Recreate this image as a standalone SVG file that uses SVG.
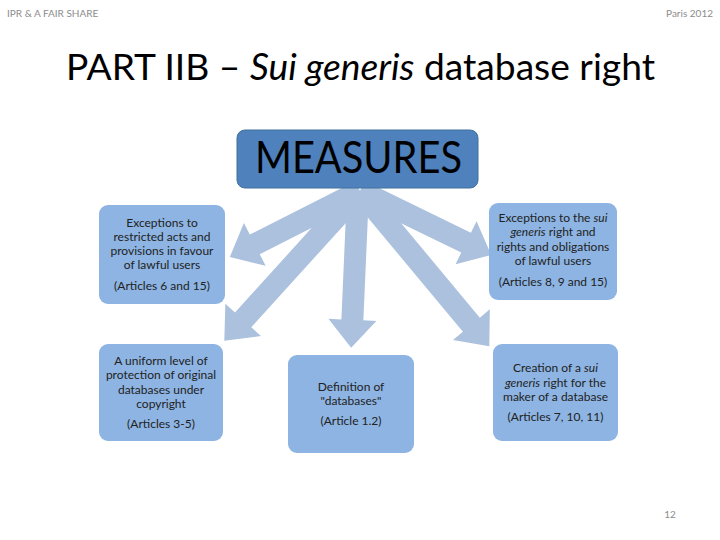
<svg xmlns="http://www.w3.org/2000/svg" width="720" height="540" viewBox="0 0 720 540">
<style>
.hdr{font-family:"Lato","Liberation Sans",sans-serif;font-size:10px;fill:#8c8c8c}
.title{font-family:"Lato","Liberation Sans",sans-serif;font-size:36px;fill:#000}
.box{fill:#8db4e2;stroke:none}
.t{font-family:"Lato","Liberation Sans",sans-serif;font-size:12px;fill:#222;text-anchor:middle}
.arr{fill:#abc1de}
</style>
<defs>
<polygon id="a146" points="0,-11 118,-11 118,-24 146,0 118,24 118,11 0,11"/>
<polygon id="a202" points="0,-11 174,-11 174,-24 202,0 174,24 174,11 0,11"/>
<polygon id="a157" points="0,-11 129,-11 129,-24 157,0 129,24 129,11 0,11"/>
</defs>
<rect width="720" height="540" fill="#fff"/>
<text class="hdr" x="7" y="17">IPR &amp; A FAIR SHARE</text>
<text class="hdr" x="713" y="17" text-anchor="end">Paris 2012</text>
<text class="title" x="66" y="80" textLength="589" lengthAdjust="spacingAndGlyphs">PART IIB – <tspan font-style="italic">Sui generis</tspan> database right</text>
<g id="connectors" class="arr">
<use href="#a146" transform="translate(360,191) rotate(153.1)"/>
<use href="#a202" transform="translate(360,191) rotate(132.2)"/>
<use href="#a157" transform="translate(358,191) rotate(92.5)"/>
<use href="#a202" transform="translate(360,191) rotate(50.2)"/>
<use href="#a146" transform="translate(360,191) rotate(26)"/>
</g>
<g id="measures">
<rect x="237" y="130" width="241" height="58" rx="8" fill="#4f81bd" stroke="#41719c" stroke-width="1"/>
<text x="358.5" y="173" font-family="Lato,'Liberation Sans',sans-serif" font-size="45" text-anchor="middle" textLength="207" lengthAdjust="spacingAndGlyphs" fill="#000">MEASURES</text>
</g>
<g id="box1">
<rect class="box" x="99" y="205" width="126" height="99" rx="9"/>
<text class="t" x="162" y="227">Exceptions to</text>
<text class="t" x="162" y="241">restricted acts and</text>
<text class="t" x="162" y="255">provisions in favour</text>
<text class="t" x="162" y="269">of lawful users</text>
<text class="t" x="162" y="290">(Articles 6 and 15)</text>
</g>
<g id="box2">
<rect class="box" x="489" y="203" width="128" height="97" rx="9"/>
<text class="t" x="553" y="222">Exceptions to the <tspan font-style="italic">sui</tspan></text>
<text class="t" x="553" y="236"><tspan font-style="italic">generis</tspan> right and</text>
<text class="t" x="553" y="251">rights and obligations</text>
<text class="t" x="553" y="265">of lawful users</text>
<text class="t" x="553" y="286">(Articles 8, 9 and 15)</text>
</g>
<g id="box3">
<rect class="box" x="99" y="344" width="124" height="97" rx="9"/>
<text class="t" x="161" y="365">A uniform level of</text>
<text class="t" x="161" y="379">protection of original</text>
<text class="t" x="161" y="394">databases under</text>
<text class="t" x="161" y="408">copyright</text>
<text class="t" x="161" y="428">(Articles 3-5)</text>
</g>
<g id="box4">
<rect class="box" x="288" y="355" width="126" height="98" rx="9"/>
<text class="t" x="351" y="391">Definition of</text>
<text class="t" x="351" y="405">"databases"</text>
<text class="t" x="351" y="425">(Article 1.2)</text>
</g>
<g id="box5">
<rect class="box" x="493" y="344" width="125" height="97" rx="9"/>
<text class="t" x="555.5" y="372">Creation of a <tspan font-style="italic">sui</tspan></text>
<text class="t" x="555.5" y="387"><tspan font-style="italic">generis</tspan> right for the</text>
<text class="t" x="555.5" y="401">maker of a database</text>
<text class="t" x="555.5" y="421">(Articles 7, 10, 11)</text>
</g>
<text class="hdr" x="670" y="518" text-anchor="middle">12</text>
</svg>
